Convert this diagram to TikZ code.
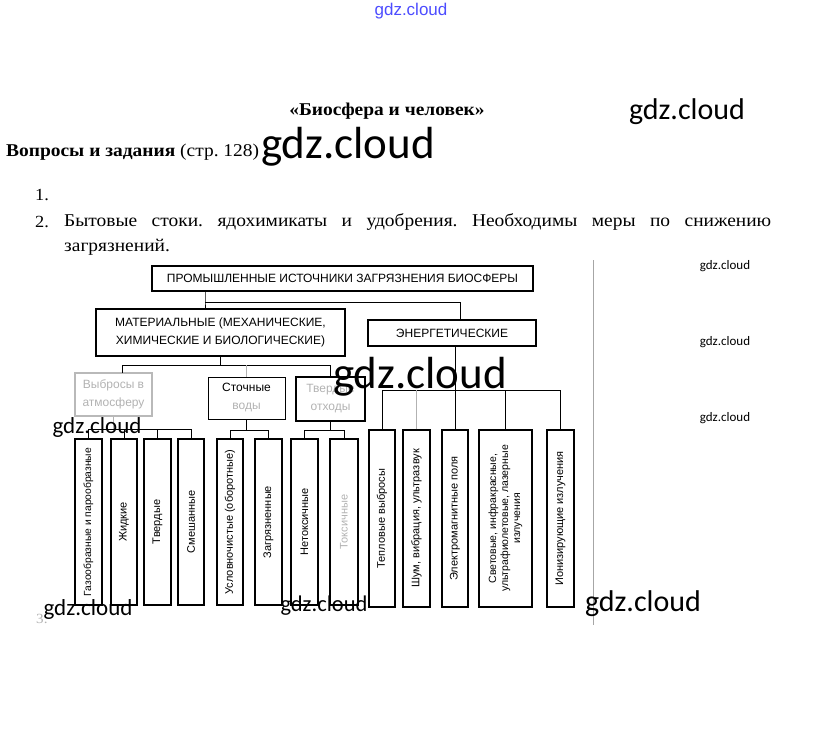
\documentclass[tikz,border=0pt]{standalone}
\usepackage{fontspec}
\setmainfont{Liberation Serif}[FakeStretch=1.08]
\newfontfamily\sansf{Liberation Sans}
\newfontfamily\wmf{Carlito}
\frenchspacing
\begin{document}
\begin{tikzpicture}[x=1pt,y=-1pt,
  box/.style={draw, line width=1.1pt, inner sep=0pt, align=center, font=\sansf\fontsize{12}{18}\selectfont},
  fbox/.style={box, draw=gray!55, text=gray!60},
  vbox/.style={box, rotate=90, font=\sansf\fontsize{11}{12.5}\selectfont},
  link/.style={line width=0.9pt},
  flink/.style={line width=0.8pt, gray!60},
  wm/.style={inner sep=0pt, font=\wmf\fontsize{#1}{#1}\selectfont}]
\useasboundingbox (0,0) rectangle (823,734);
% header text
\node[inner sep=0pt, text=blue!70, font=\sansf\fontsize{17}{17}\selectfont] (wm0) at (411,11) {gdz.cloud};
\node[inner sep=0pt, font=\bfseries\fontsize{18}{20}\selectfont] (title) at (387,111) {«Биосфера и человек»};
\node[inner sep=0pt, anchor=west, font=\fontsize{18}{20}\selectfont] (q) at (6,152) {\textbf{Вопросы и задания} (стр. 128)};
\node[inner sep=0pt, anchor=west, font=\fontsize{17}{20}\selectfont] (n1) at (35,195) {1.};
\node[inner sep=0pt, anchor=west, font=\fontsize{17}{20}\selectfont] (n2) at (35,222) {2.};
\node[inner sep=0pt, anchor=north west, text width=707pt, align=justify, font=\fontsize{18}{25}\selectfont] (p2) at (64,213) {\hyphenpenalty=10000\tolerance=10000 Бытовые стоки. ядохимикаты и удобрения. Необходимы меры по снижению загрязнений.};
\node[inner sep=0pt, anchor=west, text=gray!60, font=\fontsize{14}{15}\selectfont] (n3) at (36,619) {3.};
% right rule
\coordinate (r1) at (593,260);
\coordinate (r2) at (593,625);
\draw[line width=0.8pt, gray!70] (r1) -- (r2);
% upper boxes
\node[box, minimum width=381pt, minimum height=25pt] (top) at (342.5,278.5) {ПРОМЫШЛЕННЫЕ ИСТОЧНИКИ ЗАГРЯЗНЕНИЯ БИОСФЕРЫ};
\node[box, minimum width=249pt, minimum height=47pt] (mat) at (220.5,332.5) {МАТЕРИАЛЬНЫЕ (МЕХАНИЧЕСКИЕ,\\ХИМИЧЕСКИЕ И БИОЛОГИЧЕСКИЕ)};
\node[box, minimum width=168pt, minimum height=26pt] (en) at (452,333) {ЭНЕРГЕТИЧЕСКИЕ};
\node[fbox, minimum width=77pt, minimum height=43pt] (vyb) at (113.5,394.5) {Выбросы в\\атмосферу};
\node[box, line width=0.9pt, minimum width=77pt, minimum height=42pt] (sto) at (246.5,398) {Сточные\\\textcolor{gray!60}{воды}};
\node[fbox, draw=black, minimum width=69pt, minimum height=44pt] (tve) at (330.5,399) {Твердые\\отходы};
% material children
\node[vbox, minimum width=166pt, minimum height=27pt, font=\sansf\fontsize{10.3}{12}\selectfont] (g1) at (88.5,522) {Газообразные и парообразные};
\node[vbox, minimum width=166pt, minimum height=26pt] (g2) at (124,522) {Жидкие};
\node[vbox, minimum width=166pt, minimum height=27pt] (g3) at (157.5,522) {Твердые};
\node[vbox, minimum width=166pt, minimum height=26pt] (g4) at (191,522) {Смешанные};
\node[vbox, minimum width=166pt, minimum height=26pt] (g5) at (230,522) {Условночистые (оборотные)};
\node[vbox, minimum width=166pt, minimum height=27pt] (g6) at (268.5,522) {Загрязненные};
\node[vbox, minimum width=166pt, minimum height=27pt] (g7) at (304.5,522) {Нетоксичные};
\node[vbox, minimum width=166pt, minimum height=28pt, text=gray!60] (g8) at (344,522) {Токсичные};
% energy children
\node[vbox, minimum width=177pt, minimum height=26pt] (e1) at (382,518.5) {Тепловые выбросы};
\node[vbox, minimum width=177pt, minimum height=27pt] (e2) at (416.5,518.5) {Шум, вибрация, ультразвук};
\node[vbox, minimum width=177pt, minimum height=26pt] (e3) at (455,518.5) {Электромагнитные поля};
\node[vbox, minimum width=177pt, minimum height=53pt, font=\sansf\fontsize{10.5}{12}\selectfont] (e4) at (505.5,518.5) {Световые, инфракрасные,\\ультрафиолетовые, лазерные\\излучения};
\node[vbox, minimum width=177pt, minimum height=27pt] (e5) at (560.5,518.5) {Ионизирующие излучения};
% connectors: top level
\draw[link] (top.south -| 205,0) -- (205,302) -- (mat.north -| 205,0);
\draw[link] (205,302) -- (460,302) -- (en.north -| 460,0);
% material bus
\coordinate (b1) at (0,365);
\draw[link] (mat.south) -- (mat.south |- b1);
\draw[link] (122,372.5) -- (122,365) -- (330.5,365) -- (tve.north);
\draw[flink] (sto.north) -- (sto.north |- b1);
% energy bus
\coordinate (b2) at (0,390);
\draw[link] (en.south -| e3.east) -- (e3.east);
\draw[link] (e1.east) -- (e1.east |- b2) -- (e5.east |- b2) -- (e5.east);
\draw[flink] (e2.east) -- (e2.east |- b2);
\draw[link] (e4.east) -- (e4.east |- b2);
% group buses
\coordinate (b3) at (0,429);
\draw[flink] (vyb.south) -- (vyb.south |- b3);
\draw[link] (g1.east) -- (g1.east |- b3) -- (g4.east |- b3) -- (g4.east);
\draw[link] (g2.east) -- (g2.east |- b3);
\draw[link] (g3.east) -- (g3.east |- b3);
\coordinate (b4) at (0,430);
\draw[link] (sto.south) -- (sto.south |- b4);
\draw[link] (g5.east) -- (g5.east |- b4) -- (g6.east |- b4) -- (g6.east);
\draw[link] (tve.south) -- (tve.south |- b4);
\draw[link] (g7.east) -- (g7.east |- b4) -- (g8.east |- b4) -- (g8.east);
% watermarks
\node[wm=30] (w1) at (687,112) {gdz.cloud};
\node[wm=45] (w2) at (348,147) {gdz.cloud};
\node[wm=13] (w3) at (725,266) {gdz.cloud};
\node[wm=13] (w4) at (725,342) {gdz.cloud};
\node[wm=13] (w5) at (725,418) {gdz.cloud};
\node[wm=45] (w6) at (420,377) {gdz.cloud};
\node[wm=23] (w7) at (97,427) {gdz.cloud};
\node[wm=23] (w8) at (88,609) {gdz.cloud};
\node[wm=22.5] (w9) at (324,606) {gdz.cloud};
\node[wm=30] (w10) at (643,604) {gdz.cloud};
\end{tikzpicture}
\end{document}
